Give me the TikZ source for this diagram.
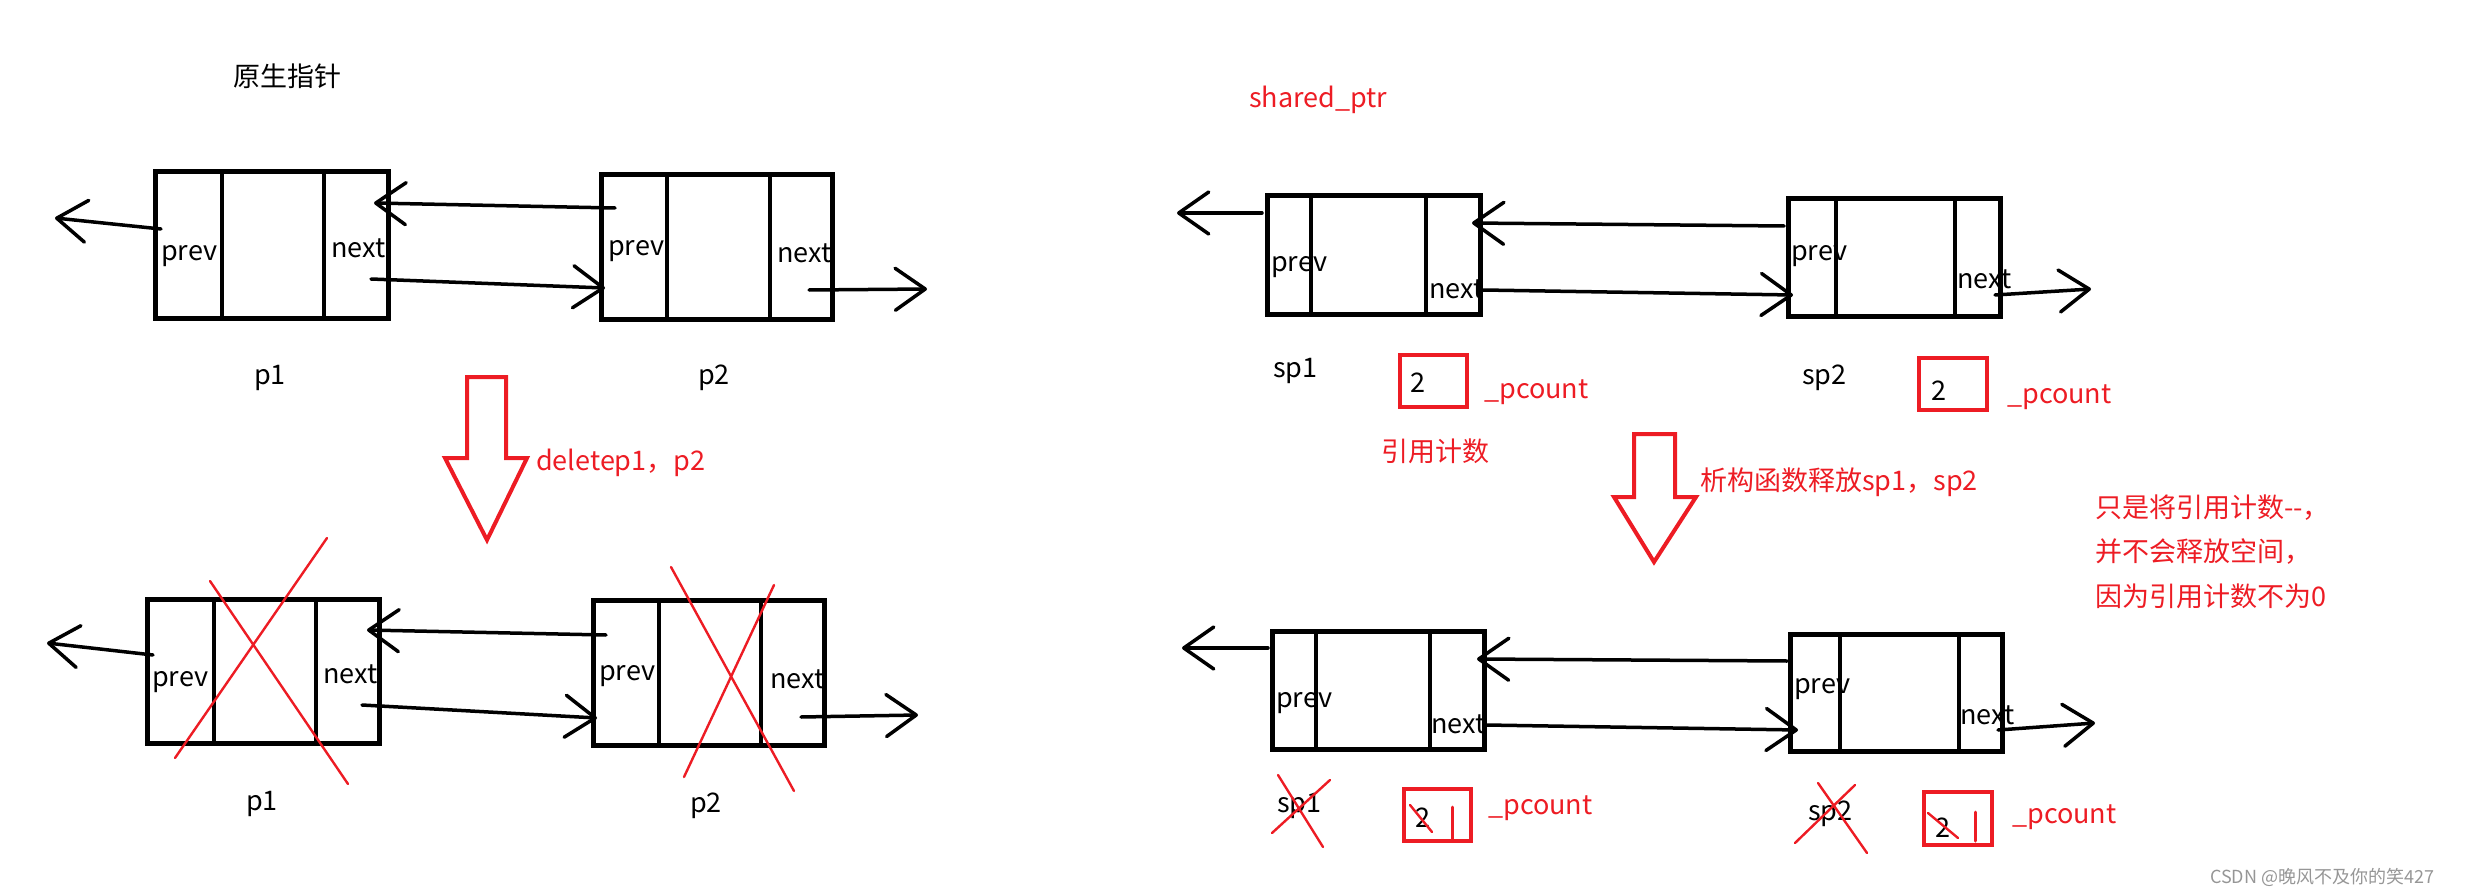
\documentclass[tikz,border=0pt]{standalone}
\usepackage{fontspec}
\setmainfont{Noto Sans CJK SC}
\usetikzlibrary{arrows.meta,fit}
\definecolor{pred}{RGB}{237,28,36}
\definecolor{wm}{RGB}{150,150,150}
\begin{document}
\begin{tikzpicture}[x=1pt,y=-1pt,
  listbox/.style={draw=black, line width=5pt, inner sep=0pt},
  divider/.style={draw=black, line width=4.5pt},
  link/.style={draw=black, line width=3.5pt, line cap=round, -{Straight Barb[length=30pt,width=42pt,round]}},
  lbl/.style={anchor=base west, inner sep=0pt, font=\fontsize{27pt}{32pt}\selectfont},
  clbl/.style={lbl, anchor=base},
  rlbl/.style={lbl, text=pred},
  redbox/.style={draw=pred, line width=4.5pt, inner sep=0pt},
  bigarrow/.style={draw=pred, line width=4pt, line join=miter},
  cross/.style={draw=pred, line width=2.4pt, line cap=round},
  wmark/.style={anchor=base west, inner sep=0pt, text=wm, font=\fontsize{18pt}{22pt}\selectfont}]
\useasboundingbox (0,0) rectangle (2471,896);

% ---------- top left: raw pointers ----------
\node[lbl] (title1) at (233,87) {原生指针};
\node[listbox, fit={(155,172)(388,318)}] (p1) {};
\draw[divider] (222,172) -- (222,318) (324,172) -- (324,318);
\node[listbox, fit={(601,175)(832,319)}] (p2) {};
\draw[divider] (667,175) -- (667,319) (770,175) -- (770,319);
\node[lbl] (p1prev) at (161,260) {prev};
\node[lbl] (p1next) at (331,258) {next};
\node[lbl] (p2prev) at (608,255) {prev};
\node[lbl] (p2next) at (777,262) {next};
\node[clbl] (p1name) at (270,384) {p1};
\node[clbl] (p2name) at (714,384) {p2};
\coordinate (a1s) at (161,229); \coordinate (a1e) at (55,218);
\coordinate (a2s) at (615,208); \coordinate (a2e) at (374,203);
\coordinate (a3s) at (371,279); \coordinate (a3e) at (605,288);
\coordinate (a4s) at (809,290); \coordinate (a4e) at (927,289);
\draw[link] (a1s) -- (a1e);
\draw[link] (a2s) -- (a2e);
\draw[link] (a3s) -- (a3e);
\draw[link] (a4s) -- (a4e);

% red block arrow 1
\draw[bigarrow] (467,377) -- (506,377) -- (506,458) -- (527,458) -- (487,540) -- (445,458) -- (467,458) -- cycle;
\node[rlbl] (del) at (536,470) {deletep1，p2};

% ---------- bottom left ----------
\node[listbox, fit={(147,599)(379,743)}] (q1) {};
\draw[divider] (214,599) -- (214,743) (316,599) -- (316,743);
\node[listbox, fit={(593,600)(824,745)}] (q2) {};
\draw[divider] (659,600) -- (659,745) (761,600) -- (761,745);
\node[lbl] (q1prev) at (152,686) {prev};
\node[lbl] (q1next) at (323,683) {next};
\node[lbl] (q2prev) at (599,680) {prev};
\node[lbl] (q2next) at (770,688) {next};
\node[clbl] (q1name) at (262,810) {p1};
\node[clbl] (q2name) at (706,812) {p2};
\coordinate (b1s) at (153,655); \coordinate (b1e) at (47,643);
\coordinate (b2s) at (606,635); \coordinate (b2e) at (367,630);
\coordinate (b3s) at (362,705); \coordinate (b3e) at (597,718);
\coordinate (b4s) at (801,717); \coordinate (b4e) at (918,715);
\draw[link] (b1s) -- (b1e);
\draw[link] (b2s) -- (b2e);
\draw[link] (b3s) -- (b3e);
\draw[link] (b4s) -- (b4e);
\draw[cross] (327,538) -- (175,758) (210,581) -- (348,784);
\draw[cross] (671,567) -- (794,791) (774,585) -- (684,777);

% ---------- top right: shared_ptr ----------
\node[rlbl] (title2) at (1249,108) {shared\_ptr};
\node[listbox, fit={(1267,196)(1480,314)}] (s1) {};
\draw[divider] (1311,196) -- (1311,314) (1426,196) -- (1426,314);
\node[listbox, fit={(1788,199)(2000,316)}] (s2) {};
\draw[divider] (1836,199) -- (1836,316) (1955,199) -- (1955,316);
\node[lbl] (s1prev) at (1271,271) {prev};
\node[lbl] (s1next) at (1429,298) {next};
\node[lbl] (s2prev) at (1791,260) {prev};
\node[lbl] (s2next) at (1957,288) {next};
\node[lbl] (s1name) at (1273,377) {sp1};
\node[lbl] (s2name) at (1802,384) {sp2};
\node[redbox, fit={(1400,355)(1467,407)}] (c1) {};
\node[redbox, fit={(1919,358)(1987,410)}] (c2) {};
\node[lbl] (c1n) at (1410,392) {2};
\node[lbl] (c2n) at (1931,400) {2};
\node[rlbl] (pc1) at (1484,398) {\_pcount};
\node[rlbl] (pc2) at (2007,403) {\_pcount};
\node[rlbl] (refc) at (1381,461) {引用计数};
\coordinate (c1s) at (1262,213); \coordinate (c1e) at (1177,213);
\coordinate (c2s) at (1784,226); \coordinate (c2e) at (1472,223);
\coordinate (c3s) at (1483,290); \coordinate (c3e) at (1793,295);
\coordinate (c4s) at (1995,295); \coordinate (c4e) at (2091,289);
\draw[link] (c1s) -- (c1e);
\draw[link] (c2s) -- (c2e);
\draw[link] (c3s) -- (c3e);
\draw[link] (c4s) -- (c4e);

% red block arrow 2
\draw[bigarrow] (1634,434) -- (1675,434) -- (1675,497) -- (1696,497) -- (1654,562) -- (1614,497) -- (1634,497) -- cycle;
\node[rlbl] (dtor) at (1700,490) {析构函数释放sp1，sp2};
\node[rlbl] (n1) at (2095,517) {只是将引用计数-{}-，};
\node[rlbl] (n2) at (2095,561) {并不会释放空间，};
\node[rlbl] (n3) at (2095,606) {因为引用计数不为0};

% ---------- bottom right ----------
\node[listbox, fit={(1272,631)(1484,749)}] (r1) {};
\draw[divider] (1316,631) -- (1316,749) (1430,631) -- (1430,749);
\node[listbox, fit={(1790,634)(2002,751)}] (r2) {};
\draw[divider] (1840,634) -- (1840,751) (1959,634) -- (1959,751);
\node[lbl] (r1prev) at (1276,707) {prev};
\node[lbl] (r1next) at (1431,733) {next};
\node[lbl] (r2prev) at (1794,693) {prev};
\node[lbl] (r2next) at (1960,724) {next};
\node[lbl] (r1name) at (1277,812) {sp1};
\node[lbl] (r2name) at (1808,820) {sp2};
\node[redbox, fit={(1404,789)(1471,841)}] (e1) {};
\node[redbox, fit={(1924,792)(1992,845)}] (e2) {};
\node[lbl] (e1n) at (1415,827) {2};
\node[lbl] (e2n) at (1935,837) {2};
\node[rlbl] (pc3) at (1488,814) {\_pcount};
\node[rlbl] (pc4) at (2012,823) {\_pcount};
\coordinate (d1s) at (1268,648); \coordinate (d1e) at (1182,648);
\coordinate (d2s) at (1787,661); \coordinate (d2e) at (1477,659);
\coordinate (d3s) at (1486,725); \coordinate (d3e) at (1798,730);
\coordinate (d4s) at (1998,730); \coordinate (d4e) at (2095,723);
\draw[link] (d1s) -- (d1e);
\draw[link] (d2s) -- (d2e);
\draw[link] (d3s) -- (d3e);
\draw[link] (d4s) -- (d4e);
\draw[cross] (1278,775) -- (1323,847) (1330,780) -- (1272,833);
\draw[cross] (1818,783) -- (1867,853) (1855,785) -- (1795,843);
\draw[cross] (1410,805) -- (1432,832);
\draw[cross, line width=3pt] (1452,807) -- (1452,839);
\draw[cross] (1928,813) -- (1958,838);
\draw[cross, line width=3pt] (1975,812) -- (1975,841);

\node[wmark] (wm) at (2210,883) {CSDN @晚风不及你的笑427};
\end{tikzpicture}
\end{document}
